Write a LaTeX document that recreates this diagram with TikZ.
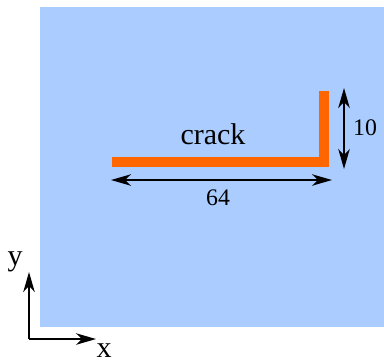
\documentclass[tikz,border=0pt]{standalone}
\usepackage{fontspec}
\setmainfont{Liberation Serif}
\usetikzlibrary{arrows.meta, positioning}
\definecolor{plateblue}{RGB}{170, 204, 255}
\definecolor{crackorange}{RGB}{255, 102, 0}

\begin{document}
\begin{tikzpicture}[x=0.4pt, y=-0.4pt, >={Stealth[length=8pt, width=4.6pt, inset=2.4pt]},
  dimline/.style={<->, line width=0.6pt, black},
  label/.style={inner sep=0pt, font=\fontsize{12}{14}\selectfont}]
  \useasboundingbox (0,0) rectangle (384,363);

  % Plate
  \fill[plateblue] (40,7) rectangle (384,327);

  % Crack
  \coordinate (crackleft) at (112,162);
  \coordinate (crackcorner) at (324,162);
  \coordinate (cracktop) at (324,91);
  \draw[crackorange, line width=4pt, miter limit=4] (crackleft) -- (crackcorner) -- (cracktop);
  \node (cracklabel) [label] at (213,134) {crack};

  % Dimensions
  \coordinate (wleft) at (111,180);
  \coordinate (wright) at (332,180);
  \draw[dimline] (wleft) -- (wright);
  \node (widthlabel) [label, font=\fontsize{9.5}{11}\selectfont] at (218,198) {64};

  \coordinate (htop) at (344,88);
  \coordinate (hbottom) at (344,169);
  \draw[dimline] (htop) -- (hbottom);
  \node (heightlabel) [label, font=\fontsize{9.5}{11}\selectfont] at (365,128) {10};

  % Axes
  \coordinate (origin) at (29,339);
  \coordinate (yend) at (29,272);
  \coordinate (xend) at (96,339);
  \draw[->, line width=0.6pt] (origin) -- (yend);
  \draw[->, line width=0.6pt] (origin) -- (xend);
  \node (ylabel) [label] at (15,262) {y};
  \node (xlabel) [label] at (104,351) {x};

\end{tikzpicture}
\end{document}
